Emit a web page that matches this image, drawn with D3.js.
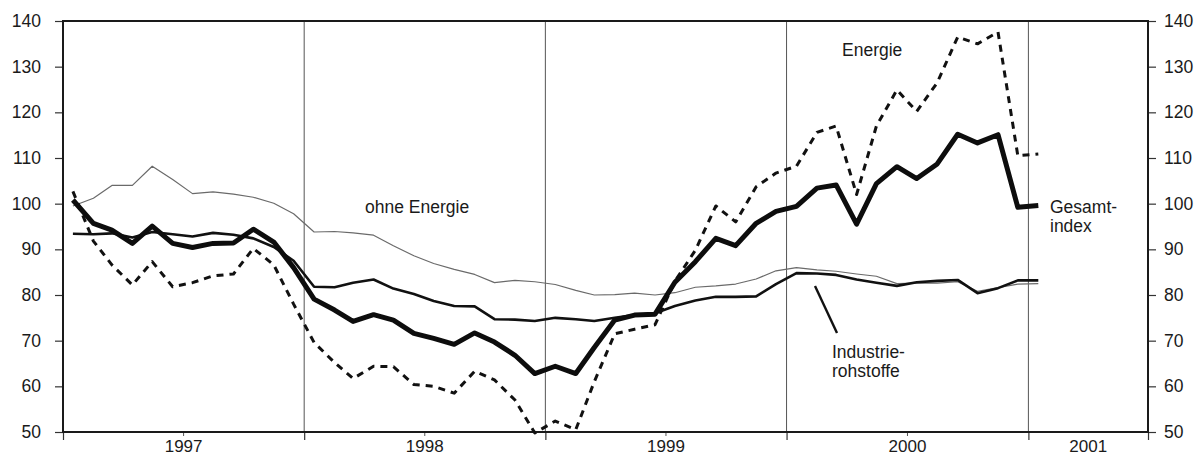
<!DOCTYPE html>
<html>
<head>
<meta charset="utf-8">
<script src="https://cdn.jsdelivr.net/npm/d3@7/dist/d3.min.js"></script>
<style>
  html, body { margin: 0; padding: 0; background: #fff; }
  svg { display: block; }
  text { font-family: "Liberation Sans", Arial, Helvetica, sans-serif; fill: #1a1a1a; }
</style>
</head>
<body>
<svg id="chart" width="1196" height="457"></svg>
<script>
// ---- Data (monthly, Jan 1997 – Jan 2001) ----
const months = [
  "1997-01","1997-02","1997-03","1997-04","1997-05","1997-06","1997-07","1997-08","1997-09","1997-10","1997-11","1997-12",
  "1998-01","1998-02","1998-03","1998-04","1998-05","1998-06","1998-07","1998-08","1998-09","1998-10","1998-11","1998-12",
  "1999-01","1999-02","1999-03","1999-04","1999-05","1999-06","1999-07","1999-08","1999-09","1999-10","1999-11","1999-12",
  "2000-01","2000-02","2000-03","2000-04","2000-05","2000-06","2000-07","2000-08","2000-09","2000-10","2000-11","2000-12",
  "2001-01"
];
const gesamtindex = [
  100.8, 95.7, 94.2, 91.3, 95.1, 91.3, 90.4, 91.3, 91.4, 94.4, 91.6, 86.0,
  79.1, 76.7, 74.2, 75.7, 74.5, 71.6, 70.5, 69.2, 71.7, 69.7, 66.8, 62.8,
  64.4, 62.8, 68.5, 74.5, 75.6, 75.8, 82.8, 87.3, 92.4, 90.8, 95.7, 98.3,
  99.4, 103.4, 104.1, 95.5, 104.4, 108.1, 105.5, 108.7, 115.2, 113.3, 115.1, 99.2,
  99.6
];
const energie = [
  102.7, 91.8, 86.6, 82.2, 87.3, 81.8, 82.7, 84.2, 84.6, 90.2, 86.6, 78.0,
  69.6, 65.2, 61.7, 64.4, 64.3, 60.4, 60.0, 58.5, 63.3, 61.4, 57.0, 49.8,
  52.4, 50.5, 61.0, 71.5, 72.5, 73.5, 83.0, 89.8, 99.5, 96.0, 103.7, 106.7,
  108.2, 115.6, 117.0, 102.0, 117.0, 124.9, 120.2, 126.5, 136.5, 135.0, 137.6, 110.5,
  110.9
];
const ohneEnergie = [
  99.5, 101.2, 104.0, 104.0, 108.2, 105.3, 102.2, 102.6, 102.1, 101.4, 100.1, 97.8,
  93.8, 93.9, 93.6, 93.1, 90.8, 88.6, 86.9, 85.6, 84.5, 82.7, 83.2, 82.9,
  82.3, 81.0, 80.0, 80.1, 80.4, 80.0, 80.5, 81.7, 82.0, 82.4, 83.5, 85.3,
  86.0, 85.5, 85.2, 84.6, 84.1, 82.5, 82.6, 82.6, 82.9, 80.8, 81.6, 82.4,
  82.5
];
const industrierohstoffe = [
  93.4, 93.3, 93.5, 92.6, 93.8, 93.3, 92.8, 93.6, 93.2, 92.4, 90.5, 87.5,
  81.8, 81.7, 82.7, 83.4, 81.4, 80.2, 78.7, 77.6, 77.5, 74.7, 74.6, 74.3,
  75.0, 74.7, 74.3, 75.0, 75.6, 76.0, 77.6, 78.8, 79.6, 79.6, 79.7, 82.4,
  84.8, 84.7, 84.4, 83.4, 82.7, 82.0, 82.8, 83.1, 83.3, 80.4, 81.5, 83.2,
  83.2
];
const yTicks = [50, 60, 70, 80, 90, 100, 110, 120, 130, 140];
const yearLabels = ["1997", "1998", "1999", "2000", "2001"];

// ---- Layout ----
const svg = d3.select("#chart");
const M = { left: 63, right: 1148, top: 21, bottom: 432 };
const parseMonth = d3.timeParse("%Y-%m");
const mid = m => { const d = parseMonth(m); return new Date(d.getFullYear(), d.getMonth(), 16); };

const x = d3.scaleTime()
  .domain([new Date(1997, 0, 1), new Date(2001, 6, 1)])
  .range([M.left, M.right]);
const y = d3.scaleLinear().domain([50, 140]).range([M.bottom, M.top]);

// Year dividers
const yearStarts = [1998, 1999, 2000, 2001].map(yr => new Date(yr, 0, 1));
svg.append("g").selectAll("line").data(yearStarts).join("line")
  .attr("x1", d => x(d)).attr("x2", d => x(d))
  .attr("y1", M.top).attr("y2", M.bottom)
  .attr("stroke", "#555").attr("stroke-width", 1);

// Axes
const leftAxis = d3.axisLeft(y).tickValues(yTicks).tickSize(8).tickPadding(14).tickFormat(d3.format("d"));
const rightAxis = d3.axisRight(y).tickValues(yTicks).tickSize(8).tickPadding(8).tickFormat(d3.format("d"));
const gl = svg.append("g").attr("transform", `translate(${M.left},0)`).call(leftAxis);
const gr = svg.append("g").attr("transform", `translate(${M.right},0)`).call(rightAxis);
[gl, gr].forEach(g => {
  g.select(".domain").remove();
  g.selectAll(".tick line").attr("stroke", "#333").attr("stroke-width", 1.2);
  g.selectAll(".tick text").attr("font-size", 17.5).attr("fill", "#1a1a1a")
    .attr("font-family", "'Liberation Sans', Arial, sans-serif");
});

// Bottom axis: long ticks at year boundaries, short at mid-year
const boundaryTicks = [new Date(1997,0,1), ...yearStarts, new Date(2001,6,1)];
const bottomAxis = d3.axisBottom(x).tickValues(boundaryTicks).tickSize(8).tickFormat("");
const gb = svg.append("g").attr("transform", `translate(0,${M.bottom})`).call(bottomAxis);
gb.select(".domain").remove();
gb.selectAll(".tick line").attr("stroke", "#333").attr("stroke-width", 1.2);

const yearMids = yearLabels.map(yr => {
  const s = new Date(+yr, 0, 1);
  const e = d3.min([new Date(+yr + 1, 0, 1), x.domain()[1]]);
  return new Date((s.getTime() + e.getTime()) / 2);
});
svg.append("g").selectAll("line").data(yearMids.slice(0, 4)).join("line")
  .attr("x1", d => x(d)).attr("x2", d => x(d))
  .attr("y1", M.bottom).attr("y2", M.bottom + 4)
  .attr("stroke", "#555").attr("stroke-width", 1);
svg.append("g").selectAll("text").data(yearLabels).join("text")
  .attr("x", (d, i) => x(yearMids[i]))
  .attr("y", 452)
  .attr("text-anchor", "middle")
  .attr("font-size", 17)
  .text(d => d);

// Frame
svg.append("rect")
  .attr("x", M.left).attr("y", M.top)
  .attr("width", M.right - M.left).attr("height", M.bottom - M.top)
  .attr("fill", "none").attr("stroke", "#1a1a1a").attr("stroke-width", 2);

// Lines
const line = vals => d3.line()
  .x((d, i) => x(mid(months[i])))
  .y(d => y(d))(vals);

svg.append("path").attr("d", line(ohneEnergie))
  .attr("fill", "none").attr("stroke", "#6a6a6a").attr("stroke-width", 1.2)
  .attr("stroke-linejoin", "round");
svg.append("path").attr("d", line(energie))
  .attr("fill", "none").attr("stroke", "#111").attr("stroke-width", 3)
  .attr("stroke-dasharray", "7,6").attr("stroke-linejoin", "round");
svg.append("path").attr("d", line(industrierohstoffe))
  .attr("fill", "none").attr("stroke", "#111").attr("stroke-width", 2.6)
  .attr("stroke-linejoin", "round");
svg.append("path").attr("d", line(gesamtindex))
  .attr("fill", "none").attr("stroke", "#0d0d0d").attr("stroke-width", 5)
  .attr("stroke-linejoin", "round");

// Annotations
const ann = svg.append("g").attr("font-size", 17.5);
ann.append("text").attr("x", 365).attr("y", 213).text("ohne Energie");
ann.append("text").attr("x", 842).attr("y", 56).text("Energie");
const g1 = ann.append("text").attr("x", 1050).attr("y", 213);
g1.append("tspan").attr("x", 1050).text("Gesamt-");
g1.append("tspan").attr("x", 1050).attr("dy", 19).text("index");
const g2 = ann.append("text").attr("x", 832).attr("y", 358);
g2.append("tspan").attr("x", 832).text("Industrie-");
g2.append("tspan").attr("x", 832).attr("dy", 19).text("rohstoffe");
svg.append("line")
  .attr("x1", 815).attr("y1", 286).attr("x2", 837).attr("y2", 333)
  .attr("stroke", "#111").attr("stroke-width", 2.4);
</script>
</body>
</html>
